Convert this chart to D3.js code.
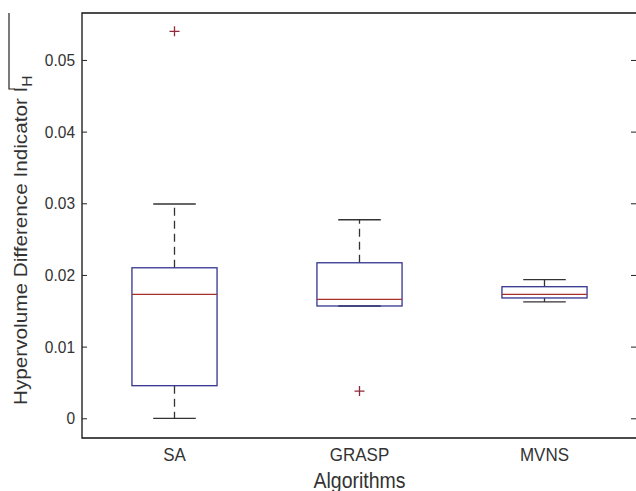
<!DOCTYPE html>
<html>
<head>
<meta charset="utf-8">
<script src="https://cdn.jsdelivr.net/npm/d3@7"></script>
<style>
  html, body { margin: 0; padding: 0; background: #fff; }
  svg { display: block; font-family: "Liberation Sans", Arial, sans-serif; }
</style>
</head>
<body>
<svg id="chart" width="636" height="491"></svg>
<script>
// Box plot summaries per algorithm
const algorithms = ["SA", "GRASP", "MVNS"];
const lowerWhisker = [0.0000, 0.01567, 0.01623];
const q1 = [0.00455, 0.01567, 0.01679];
const median = [0.0173, 0.0166, 0.0173];
const q3 = [0.0210, 0.0217, 0.01836];
const upperWhisker = [0.0299, 0.0277, 0.01934];
const outliers = [[0.0540], [0.0038], []];
const yTicks = [0, 0.01, 0.02, 0.03, 0.04, 0.05];

const svg = d3.select("#chart");
const plotLeft = 82, plotRight = 637, plotTop = 13, plotBottom = 438;
const stretch = 1.12; // text is drawn slightly taller than wide

const x = d3.scaleBand().domain(algorithms).range([plotLeft, plotRight]);
const y = d3.scaleLinear().domain([-0.00275, 0.05655]).range([plotBottom, plotTop]);

const textColor = "#333";
const boxColor = "#34348f";
const medColor = "#a8302c";
const whiskColor = "#333";
const outColor = "#8e2a3a";

// Plus-shaped outlier marker
const plusSymbol = {
  draw(ctx, size) {
    const r = Math.sqrt(size) / 2;
    ctx.moveTo(-r, 0); ctx.lineTo(r, 0);
    ctx.moveTo(0, -r); ctx.lineTo(0, r);
  }
};

// Frame (left, bottom, top)
const frame = d3.line();
svg.append("path")
  .attr("d", frame([[636, plotTop], [plotLeft, plotTop], [plotLeft, plotBottom], [636, plotBottom]]))
  .attr("fill", "none").attr("stroke", "#111").attr("stroke-width", 1.3);

// Left axis with inward ticks
const yAxis = d3.axisLeft(y).tickValues(yTicks).tickSize(-5).tickPadding(7)
  .tickFormat(d => d === 0 ? "0" : d3.format(".2f")(d));
const gy = svg.append("g").attr("transform", `translate(${plotLeft},0)`).call(yAxis);
gy.select(".domain").remove();
gy.selectAll(".tick line").attr("stroke", "#222");
gy.selectAll(".tick text").attr("fill", textColor).style("font-size", "15.5px")
  .attr("transform", `scale(1,${stretch})`);

// Right axis ticks (inward)
const gr = svg.append("g").attr("transform", `translate(${plotRight},0)`)
  .call(d3.axisRight(y).tickValues(yTicks).tickSize(-6).tickFormat(""));
gr.select(".domain").remove();
gr.selectAll(".tick line").attr("stroke", "#222");

// Category labels
const gx = svg.append("g").attr("transform", `translate(0,${plotBottom})`)
  .call(d3.axisBottom(x).tickSize(0).tickFormat(""));
gx.select(".domain").remove();
gx.selectAll(".tick").append("text")
  .attr("transform", `translate(0,23) scale(1,${stretch})`)
  .attr("text-anchor", "middle").attr("fill", textColor).style("font-size", "17px")
  .text(d => d);

// Axis titles
svg.append("text")
  .attr("transform", `translate(${(plotLeft + plotRight) / 2},488) scale(1,${stretch})`)
  .attr("text-anchor", "middle").attr("fill", textColor).style("font-size", "19.5px")
  .text("Algorithms");

const yl = svg.append("text")
  .attr("transform", `translate(27,405) rotate(-90) scale(${stretch},1)`)
  .attr("text-anchor", "start").attr("fill", textColor).style("font-size", "18.5px");
yl.append("tspan").text("Hypervolume Difference Indicator I");
yl.append("tspan").attr("dy", 5).style("font-size", "14px").text("H");

// Bracket rule running from the indicator symbol up to the top of the frame
svg.append("path")
  .attr("d", d3.line()([[15, 89], [9, 89], [9, plotTop]]))
  .attr("fill", "none").attr("stroke", "#222").attr("stroke-width", 1.2);

// Boxes
const boxW = x.bandwidth() * 0.46;
const capW = boxW / 2;
const g = svg.append("g");
algorithms.forEach((a, i) => {
  const cx = x(a) + x.bandwidth() / 2;
  [[q3[i], upperWhisker[i]], [q1[i], lowerWhisker[i]]].forEach(([from, to]) => {
    if (from !== to) {
      g.append("line").attr("x1", cx).attr("x2", cx).attr("y1", y(from)).attr("y2", y(to))
        .attr("stroke", whiskColor).attr("stroke-width", 1.3).attr("stroke-dasharray", "8,5");
    }
  });
  [upperWhisker[i], lowerWhisker[i]].forEach(v => {
    g.append("line").attr("x1", cx - capW / 2).attr("x2", cx + capW / 2)
      .attr("y1", y(v)).attr("y2", y(v)).attr("stroke", whiskColor).attr("stroke-width", 1.3);
  });
  g.append("rect").attr("x", cx - boxW / 2).attr("width", boxW)
    .attr("y", y(q3[i])).attr("height", y(q1[i]) - y(q3[i]))
    .attr("fill", "none").attr("stroke", boxColor).attr("stroke-width", 1.3);
  g.append("line").attr("x1", cx - boxW / 2).attr("x2", cx + boxW / 2)
    .attr("y1", y(median[i])).attr("y2", y(median[i]))
    .attr("stroke", medColor).attr("stroke-width", 1.3);
  outliers[i].forEach(v => {
    g.append("path").attr("d", d3.symbol(plusSymbol, 100)())
      .attr("transform", `translate(${cx},${y(v)})`)
      .attr("fill", "none").attr("stroke", outColor).attr("stroke-width", 1.3);
  });
});
</script>
</body>
</html>
